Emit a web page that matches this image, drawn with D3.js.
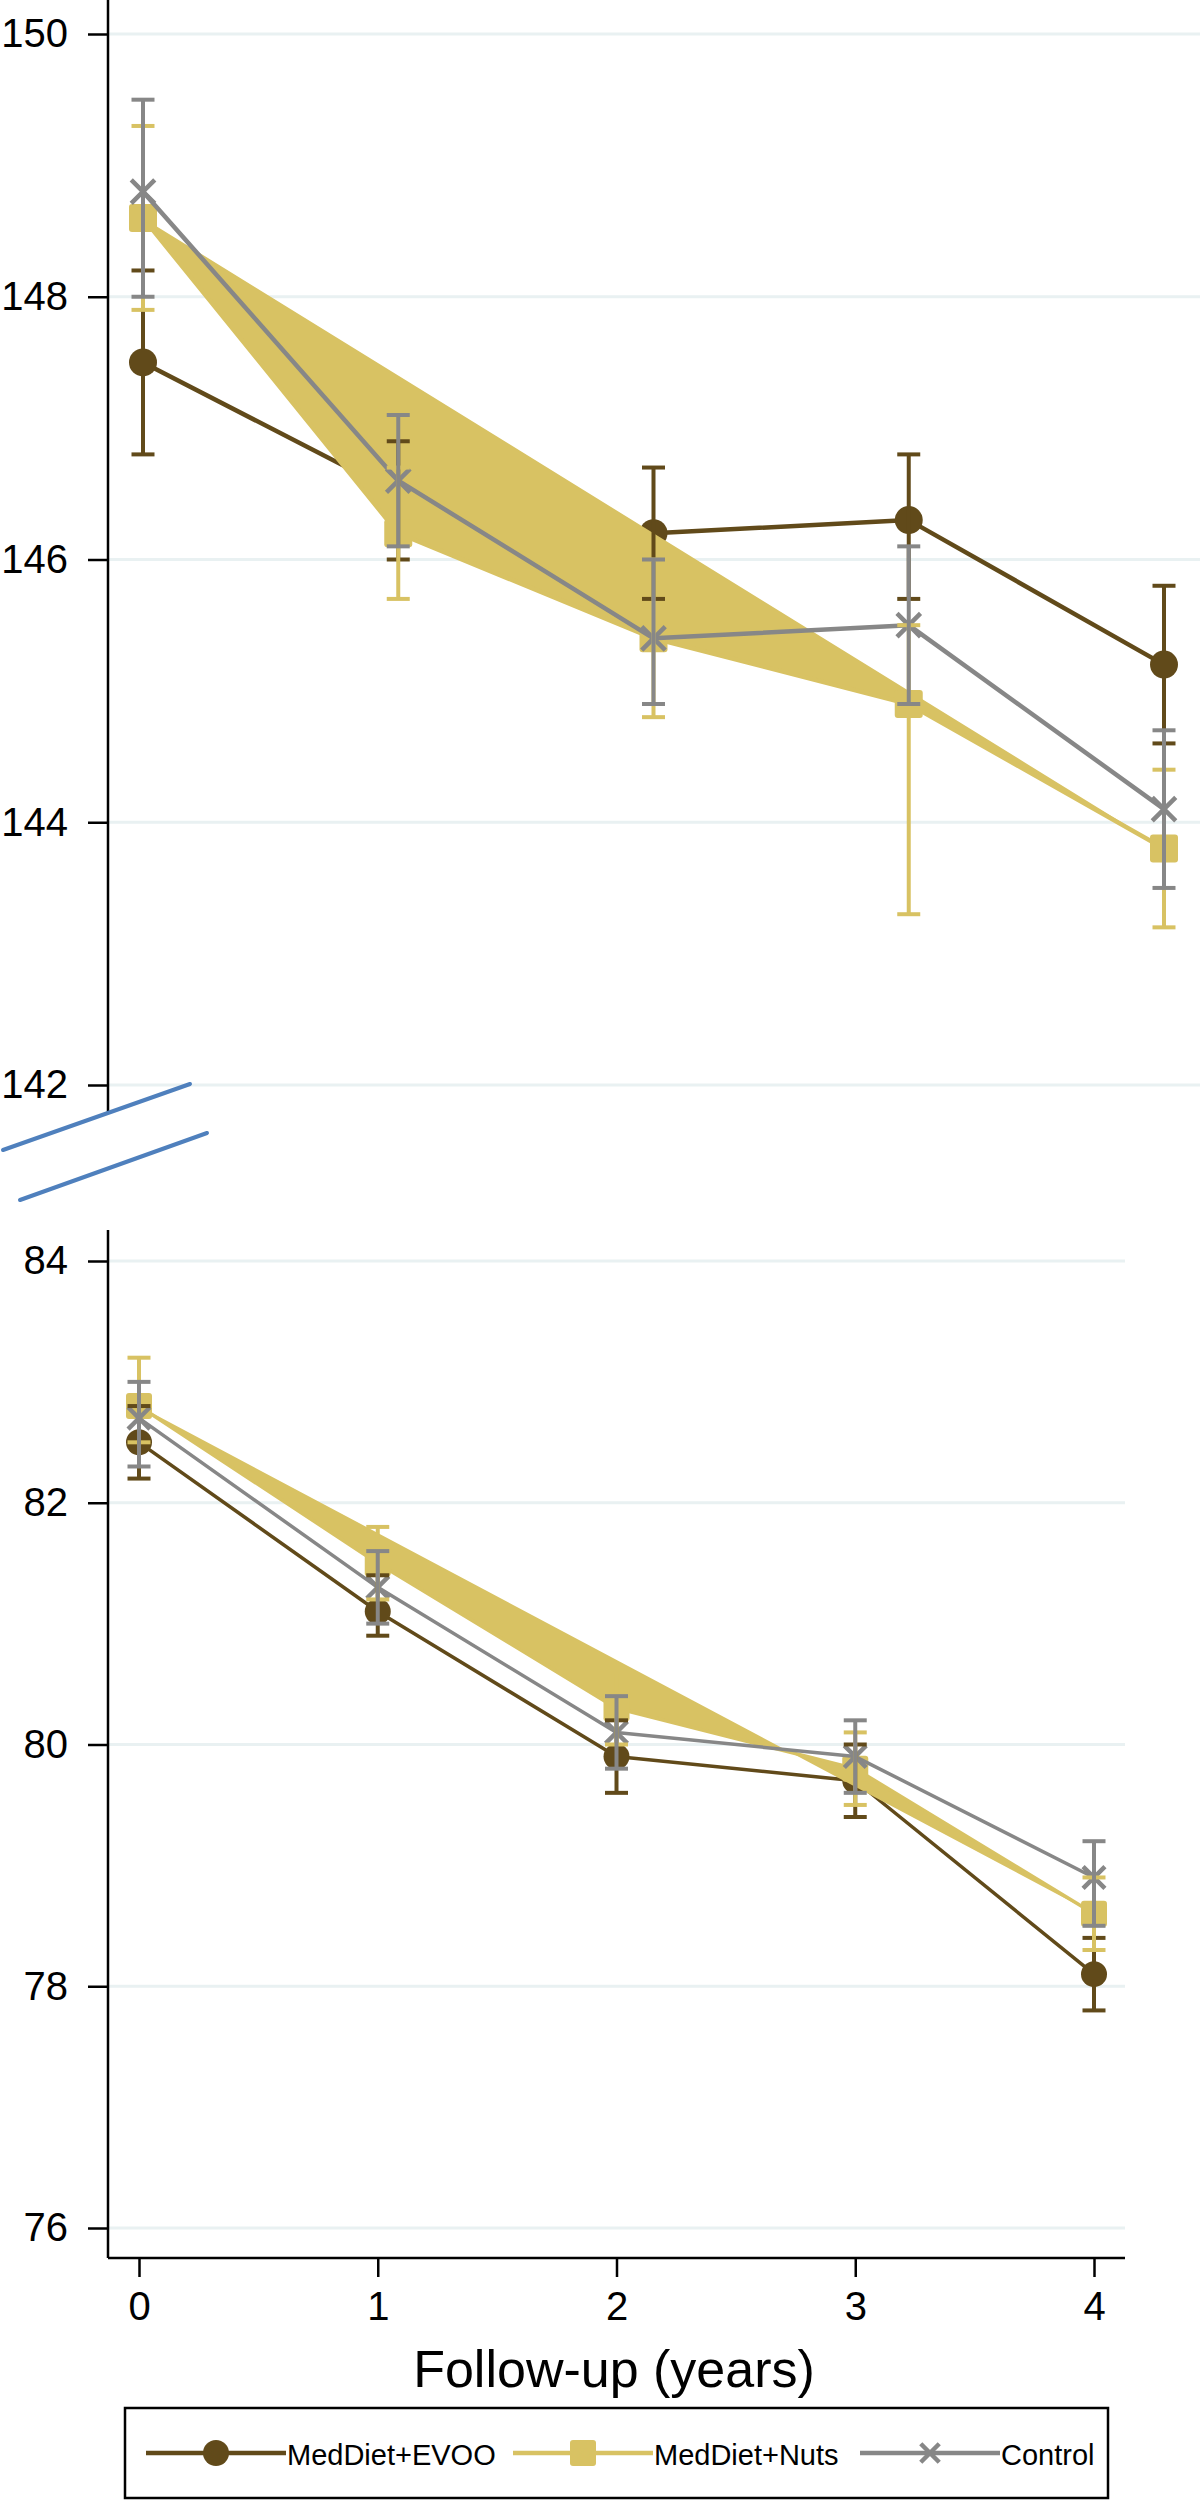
<!DOCTYPE html>
<html>
<head>
<meta charset="utf-8">
<script src="https://cdnjs.cloudflare.com/ajax/libs/d3/7.8.5/d3.min.js"></script>
<style>
  body { margin: 0; background: #fff; }
  svg { display: block; font-family: "Liberation Sans", Arial, Helvetica, sans-serif; }
</style>
</head>
<body>
<svg id="chart" width="1200" height="2500"></svg>
<script>
// follow-up years
const years = [0, 1, 2, 3, 4];
const groups = ['MedDiet+EVOO', 'MedDiet+Nuts', 'Control'];
const groupColors = ['#614a1a', '#d8c263', '#878787'];

// top panel (systolic)
const sbpTicks = [142, 144, 146, 148, 150];
const sbpEvoo = [147.5, 146.5, 146.2, 146.3, 145.2];
const sbpEvooLo = [146.8, 146.0, 145.7, 145.7, 144.6];
const sbpEvooHi = [148.2, 146.9, 146.7, 146.8, 145.8];
const sbpNuts = [148.6, 146.2, 145.4, 144.9, 143.8];
const sbpNutsLo = [147.9, 145.7, 144.8, 143.3, 143.2];
const sbpNutsHi = [149.3, 146.7, 146.0, 145.5, 144.4];
const sbpCtrl = [148.8, 146.6, 145.4, 145.5, 144.1];
const sbpCtrlLo = [148.0, 146.1, 144.9, 144.9, 143.5];
const sbpCtrlHi = [149.5, 147.1, 146.0, 146.1, 144.7];

// bottom panel (diastolic)
const dbpTicks = [76, 78, 80, 82, 84];
const dbpEvoo = [82.5, 81.1, 79.9, 79.7, 78.1];
const dbpEvooLo = [82.2, 80.9, 79.6, 79.4, 77.8];
const dbpEvooHi = [82.8, 81.4, 80.2, 80.0, 78.4];
const dbpNuts = [82.8, 81.5, 80.3, 79.8, 78.6];
const dbpNutsLo = [82.5, 81.2, 80.0, 79.5, 78.3];
const dbpNutsHi = [83.2, 81.8, 80.6, 80.1, 78.9];
const dbpCtrl = [82.7, 81.3, 80.1, 79.9, 78.9];
const dbpCtrlLo = [82.3, 81.0, 79.8, 79.6, 78.5];
const dbpCtrlHi = [83.0, 81.6, 80.4, 80.2, 79.2];

const svg = d3.select('#chart');
const axisX = 108;
const FONT = '"Liberation Sans", Arial, Helvetica, sans-serif';

function series(mean, lo, hi) {
  return years.map((yr, i) => ({year: yr, mean: mean[i], lo: lo[i], hi: hi[i]}));
}

function drawMarker(g, type, cx, cy, size, color) {
  if (type === 0) {
    g.append('circle').attr('cx', cx).attr('cy', cy).attr('r', size / 2).attr('fill', color);
  } else if (type === 1) {
    g.append('rect').attr('x', cx - size / 2).attr('y', cy - size / 2)
      .attr('width', size).attr('height', size).attr('rx', 3).attr('fill', color);
  } else {
    const h = size * 0.42;
    g.append('path')
      .attr('d', `M${cx - h},${cy - h}L${cx + h},${cy + h}M${cx - h},${cy + h}L${cx + h},${cy - h}`)
      .attr('stroke', color).attr('stroke-width', 4.5).attr('fill', 'none');
  }
}

function drawPanel(opts) {
  const x = d3.scaleLinear().domain([0, 4]).range(opts.xRange);
  const y = d3.scaleLinear().domain(opts.yDomain).range(opts.yRange);
  const g = svg.append('g');

  // gridlines
  g.selectAll('.grid').data(opts.ticks).enter().append('line')
    .attr('x1', axisX).attr('x2', opts.gridEnd)
    .attr('y1', d => y(d)).attr('y2', d => y(d))
    .attr('stroke', '#e9f1f2').attr('stroke-width', 3);

  // y axis
  const yAxis = d3.axisLeft(y).tickValues(opts.ticks).tickSize(20).tickSizeOuter(0).tickPadding(20);
  const ya = g.append('g').attr('transform', `translate(${axisX},0)`).call(yAxis);
  ya.select('.domain').remove();
  ya.selectAll('.tick line').attr('stroke', '#000').attr('stroke-width', 2.5);
  ya.selectAll('.tick text')
    .style('font-size', opts.fontSize + 'px')
    .style('font-family', FONT)
    .attr('fill', '#000');
  g.append('line').attr('x1', axisX).attr('x2', axisX)
    .attr('y1', opts.axisTop).attr('y2', opts.axisBottom)
    .attr('stroke', '#000').attr('stroke-width', 2.5);

  const data = opts.data;
  const line = d3.line().x(d => x(d.year)).y(d => y(d.mean));

  // lines and markers
  data.forEach((s, k) => {
    const lg = g.append('g');
    lg.append('path').datum(s)
      .attr('d', line)
      .attr('fill', k === 1 ? groupColors[k] : 'none')
      .attr('stroke', groupColors[k])
      .attr('stroke-width', opts.lineWidth)
      .attr('stroke-linejoin', 'round');
    s.forEach(d => drawMarker(lg, k, x(d.year), y(d.mean), opts.markerSize, groupColors[k]));
  });

  // error bars on top
  data.forEach((s, k) => {
    const eg = g.append('g').attr('stroke', groupColors[k]).attr('stroke-width', opts.barWidth);
    eg.selectAll('.bar').data(s).enter().append('line')
      .attr('x1', d => x(d.year)).attr('x2', d => x(d.year))
      .attr('y1', d => y(d.lo)).attr('y2', d => y(d.hi));
    ['lo', 'hi'].forEach(key => {
      eg.selectAll('.cap-' + key).data(s).enter().append('line')
        .attr('x1', d => x(d.year) - 11.5).attr('x2', d => x(d.year) + 11.5)
        .attr('y1', d => y(d[key])).attr('y2', d => y(d[key]));
    });
  });

  return {x, y, g};
}

// top panel
drawPanel({
  xRange: [143, 1164],
  yDomain: [142, 150], yRange: [1085, 34],
  ticks: sbpTicks, gridEnd: 1200,
  axisTop: 0, axisBottom: 1113,
  fontSize: 40, lineWidth: 4.5, barWidth: 4, markerSize: 28,
  data: [series(sbpEvoo, sbpEvooLo, sbpEvooHi),
         series(sbpNuts, sbpNutsLo, sbpNutsHi),
         series(sbpCtrl, sbpCtrlLo, sbpCtrlHi)]
});

// axis break marks
const breakG = svg.append('g').attr('stroke', '#4f80bd').attr('stroke-width', 4).attr('stroke-linecap', 'round');
[0, 50].forEach((off, i) => {
  breakG.append('line')
    .attr('x1', 3 + i * 17).attr('y1', 1150 + off)
    .attr('x2', 190 + i * 17).attr('y2', 1084 + off - i * 1);
});

// bottom panel
const bottom = drawPanel({
  xRange: [139, 1094],
  yDomain: [76, 84], yRange: [2228, 1261],
  ticks: dbpTicks, gridEnd: 1125,
  axisTop: 1230, axisBottom: 2258,
  fontSize: 40, lineWidth: 3.5, barWidth: 4, markerSize: 26,
  data: [series(dbpEvoo, dbpEvooLo, dbpEvooHi),
         series(dbpNuts, dbpNutsLo, dbpNutsHi),
         series(dbpCtrl, dbpCtrlLo, dbpCtrlHi)]
});

// x axis
const xAxis = d3.axisBottom(bottom.x).tickValues(years).tickSize(19).tickSizeOuter(0).tickPadding(15)
  .tickFormat(d3.format('d'));
const xa = svg.append('g').attr('transform', 'translate(0,2258)').call(xAxis);
xa.select('.domain').remove();
xa.selectAll('.tick line').attr('stroke', '#000').attr('stroke-width', 2.5);
xa.selectAll('.tick text')
  .style('font-size', '40px')
  .style('font-family', FONT)
  .attr('fill', '#000');
svg.append('line').attr('x1', axisX).attr('x2', 1125).attr('y1', 2258).attr('y2', 2258)
  .attr('stroke', '#000').attr('stroke-width', 2.5);

svg.append('text')
  .attr('x', 614).attr('y', 2387)
  .attr('text-anchor', 'middle')
  .style('font-size', '52px')
  .style('font-family', FONT)
  .text('Follow-up (years)');

// legend
const legend = svg.append('g');
legend.append('rect')
  .attr('x', 125).attr('y', 2408).attr('width', 983).attr('height', 90)
  .attr('fill', '#fff').attr('stroke', '#000').attr('stroke-width', 2.5);
const legendStarts = [146, 513, 860];
groups.forEach((name, k) => {
  const x0 = legendStarts[k];
  const ly = 2453;
  legend.append('line').attr('x1', x0).attr('x2', x0 + 140).attr('y1', ly).attr('y2', ly)
    .attr('stroke', groupColors[k]).attr('stroke-width', 4.5);
  drawMarker(legend, k, x0 + 70, ly, k === 2 ? 22 : 26, groupColors[k]);
  legend.append('text')
    .attr('x', x0 + 141).attr('y', 2465)
    .style('font-size', '29px')
    .style('font-family', FONT)
    .text(name);
});
</script>
</body>
</html>
